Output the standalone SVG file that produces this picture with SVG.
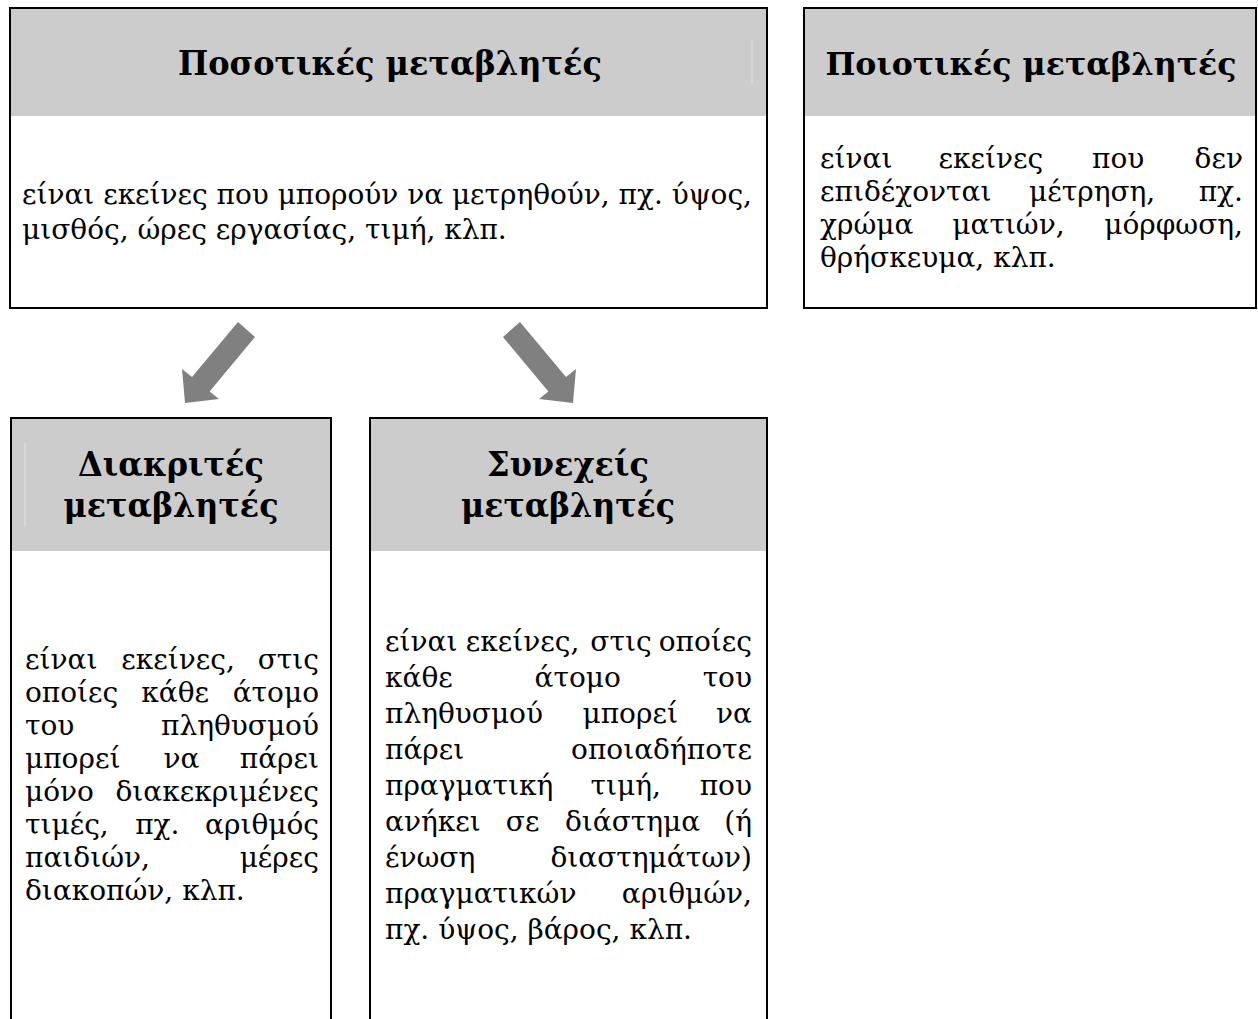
<svg xmlns="http://www.w3.org/2000/svg" width="1258" height="1019" viewBox="0 0 1258 1019">
  <style>
    .box { fill: #ffffff; stroke: #000000; stroke-width: 2; }
    .head { fill: #cccccc; }
    .ghost { stroke: #e2e2e2; stroke-width: 1; }
    .title { font-family: "DejaVu Serif", "Liberation Serif", serif; font-weight: bold; font-size: 34px; fill: #000; text-anchor: middle; }
    .t2 { font-size: 32px; }
    .body { font-family: "DejaVu Serif", "Liberation Serif", serif; font-size: 28px; fill: #000; }
    .end { text-anchor: end; }
    .arrow { fill: #808080; }
  </style>
  <rect width="1258" height="1019" fill="#ffffff"/>

  <g id="node-posotikes">
    <rect class="box" x="10" y="8" width="757" height="300"/>
    <rect class="head" x="11" y="9" width="755" height="107"/>
    <line class="ghost" x1="752" y1="40" x2="752" y2="83"/>
    <text class="title" x="390" y="75" textLength="424" lengthAdjust="spacingAndGlyphs">Ποσοτικές μεταβλητές</text>
    <text class="body" x="22" y="204" textLength="730" lengthAdjust="spacing">είναι εκείνες που μπορούν να μετρηθούν, πχ. ύψος,</text>
    <text class="body" x="22" y="239">μισθός, ώρες εργασίας, τιμή, κλπ.</text>
  </g>

  <g id="node-poiotikes">
    <rect class="box" x="804" y="8" width="452" height="300"/>
    <rect class="head" x="805" y="9" width="450" height="107"/>
    <text class="title t2" x="1031" y="75" textLength="411" lengthAdjust="spacingAndGlyphs">Ποιοτικές μεταβλητές</text>
    <g class="body">
      <text x="820" y="168">είναι</text>
      <text x="938.6" y="168">εκείνες</text>
      <text x="1092" y="168">που</text>
      <text class="end" x="1243" y="168">δεν</text>
      <text x="820" y="201">επιδέχονται</text>
      <text x="1029" y="201">μέτρηση,</text>
      <text class="end" x="1243" y="201">πχ.</text>
      <text x="820" y="234">χρώμα</text>
      <text x="952.3" y="234">ματιών,</text>
      <text class="end" x="1243" y="234">μόρφωση,</text>
      <text x="820" y="267">θρήσκευμα, κλπ.</text>
    </g>
  </g>

  <g id="node-diakrites">
    <rect class="box" x="11" y="418" width="320" height="640"/>
    <rect class="head" x="12" y="419" width="318" height="132"/>
    <line class="ghost" x1="25" y1="443" x2="25" y2="527"/>
    <text class="title" x="171" y="476" textLength="186" lengthAdjust="spacingAndGlyphs">Διακριτές</text>
    <text class="title" x="171" y="517" textLength="215" lengthAdjust="spacingAndGlyphs">μεταβλητές</text>
    <g class="body">
      <text x="25" y="669">είναι</text>
      <text x="121.3" y="669">εκείνες,</text>
      <text class="end" x="319" y="669">στις</text>
      <text x="25" y="702">οποίες</text>
      <text x="141.3" y="702">κάθε</text>
      <text class="end" x="319" y="702">άτομο</text>
      <text x="25" y="735">του</text>
      <text class="end" x="319" y="735">πληθυσμού</text>
      <text x="25" y="768">μπορεί</text>
      <text x="163.5" y="768">να</text>
      <text class="end" x="319" y="768">πάρει</text>
      <text x="25" y="801">μόνο</text>
      <text class="end" x="319" y="801">διακεκριμένες</text>
      <text x="25" y="834">τιμές,</text>
      <text x="135.2" y="834">πχ.</text>
      <text class="end" x="319" y="834">αριθμός</text>
      <text x="25" y="867">παιδιών,</text>
      <text class="end" x="319" y="867">μέρες</text>
      <text x="25" y="900">διακοπών, κλπ.</text>
    </g>
  </g>

  <g id="node-synexeis">
    <rect class="box" x="370" y="418" width="397" height="640"/>
    <rect class="head" x="371" y="419" width="395" height="132"/>
    <text class="title" x="568" y="476" textLength="162" lengthAdjust="spacingAndGlyphs">Συνεχείς</text>
    <text class="title" x="568" y="517" textLength="214" lengthAdjust="spacingAndGlyphs">μεταβλητές</text>
    <g class="body">
      <text x="385" y="651">είναι</text>
      <text x="465.8" y="651">εκείνες,</text>
      <text x="590.3" y="651">στις</text>
      <text class="end" x="752" y="651">οποίες</text>
      <text x="385" y="687">κάθε</text>
      <text x="534.5" y="687">άτομο</text>
      <text class="end" x="752" y="687">του</text>
      <text x="385" y="723">πληθυσμού</text>
      <text x="582.5" y="723">μπορεί</text>
      <text class="end" x="752" y="723">να</text>
      <text x="385" y="759">πάρει</text>
      <text class="end" x="752" y="759">οποιαδήποτε</text>
      <text x="385" y="795">πραγματική</text>
      <text x="590.5" y="795">τιμή,</text>
      <text class="end" x="752" y="795">που</text>
      <text x="385" y="831">ανήκει</text>
      <text x="505.8" y="831">σε</text>
      <text x="565" y="831">διάστημα</text>
      <text class="end" x="752" y="831">(ή</text>
      <text x="385" y="867">ένωση</text>
      <text class="end" x="752" y="867">διαστημάτων)</text>
      <text x="385" y="903">πραγματικών</text>
      <text class="end" x="752" y="903">αριθμών,</text>
      <text x="385" y="939">πχ. ύψος, βάρος, κλπ.</text>
    </g>
  </g>

  <g id="connectors">
    <polygon class="arrow" points="238,322 255,337 209.6,391.4 219,399 185,403 182,369 192,377.1"/>
    <polygon class="arrow" points="520,322 503,337 548.4,391.4 539,399 573,403 576,369 566,377.1"/>
  </g>
</svg>
